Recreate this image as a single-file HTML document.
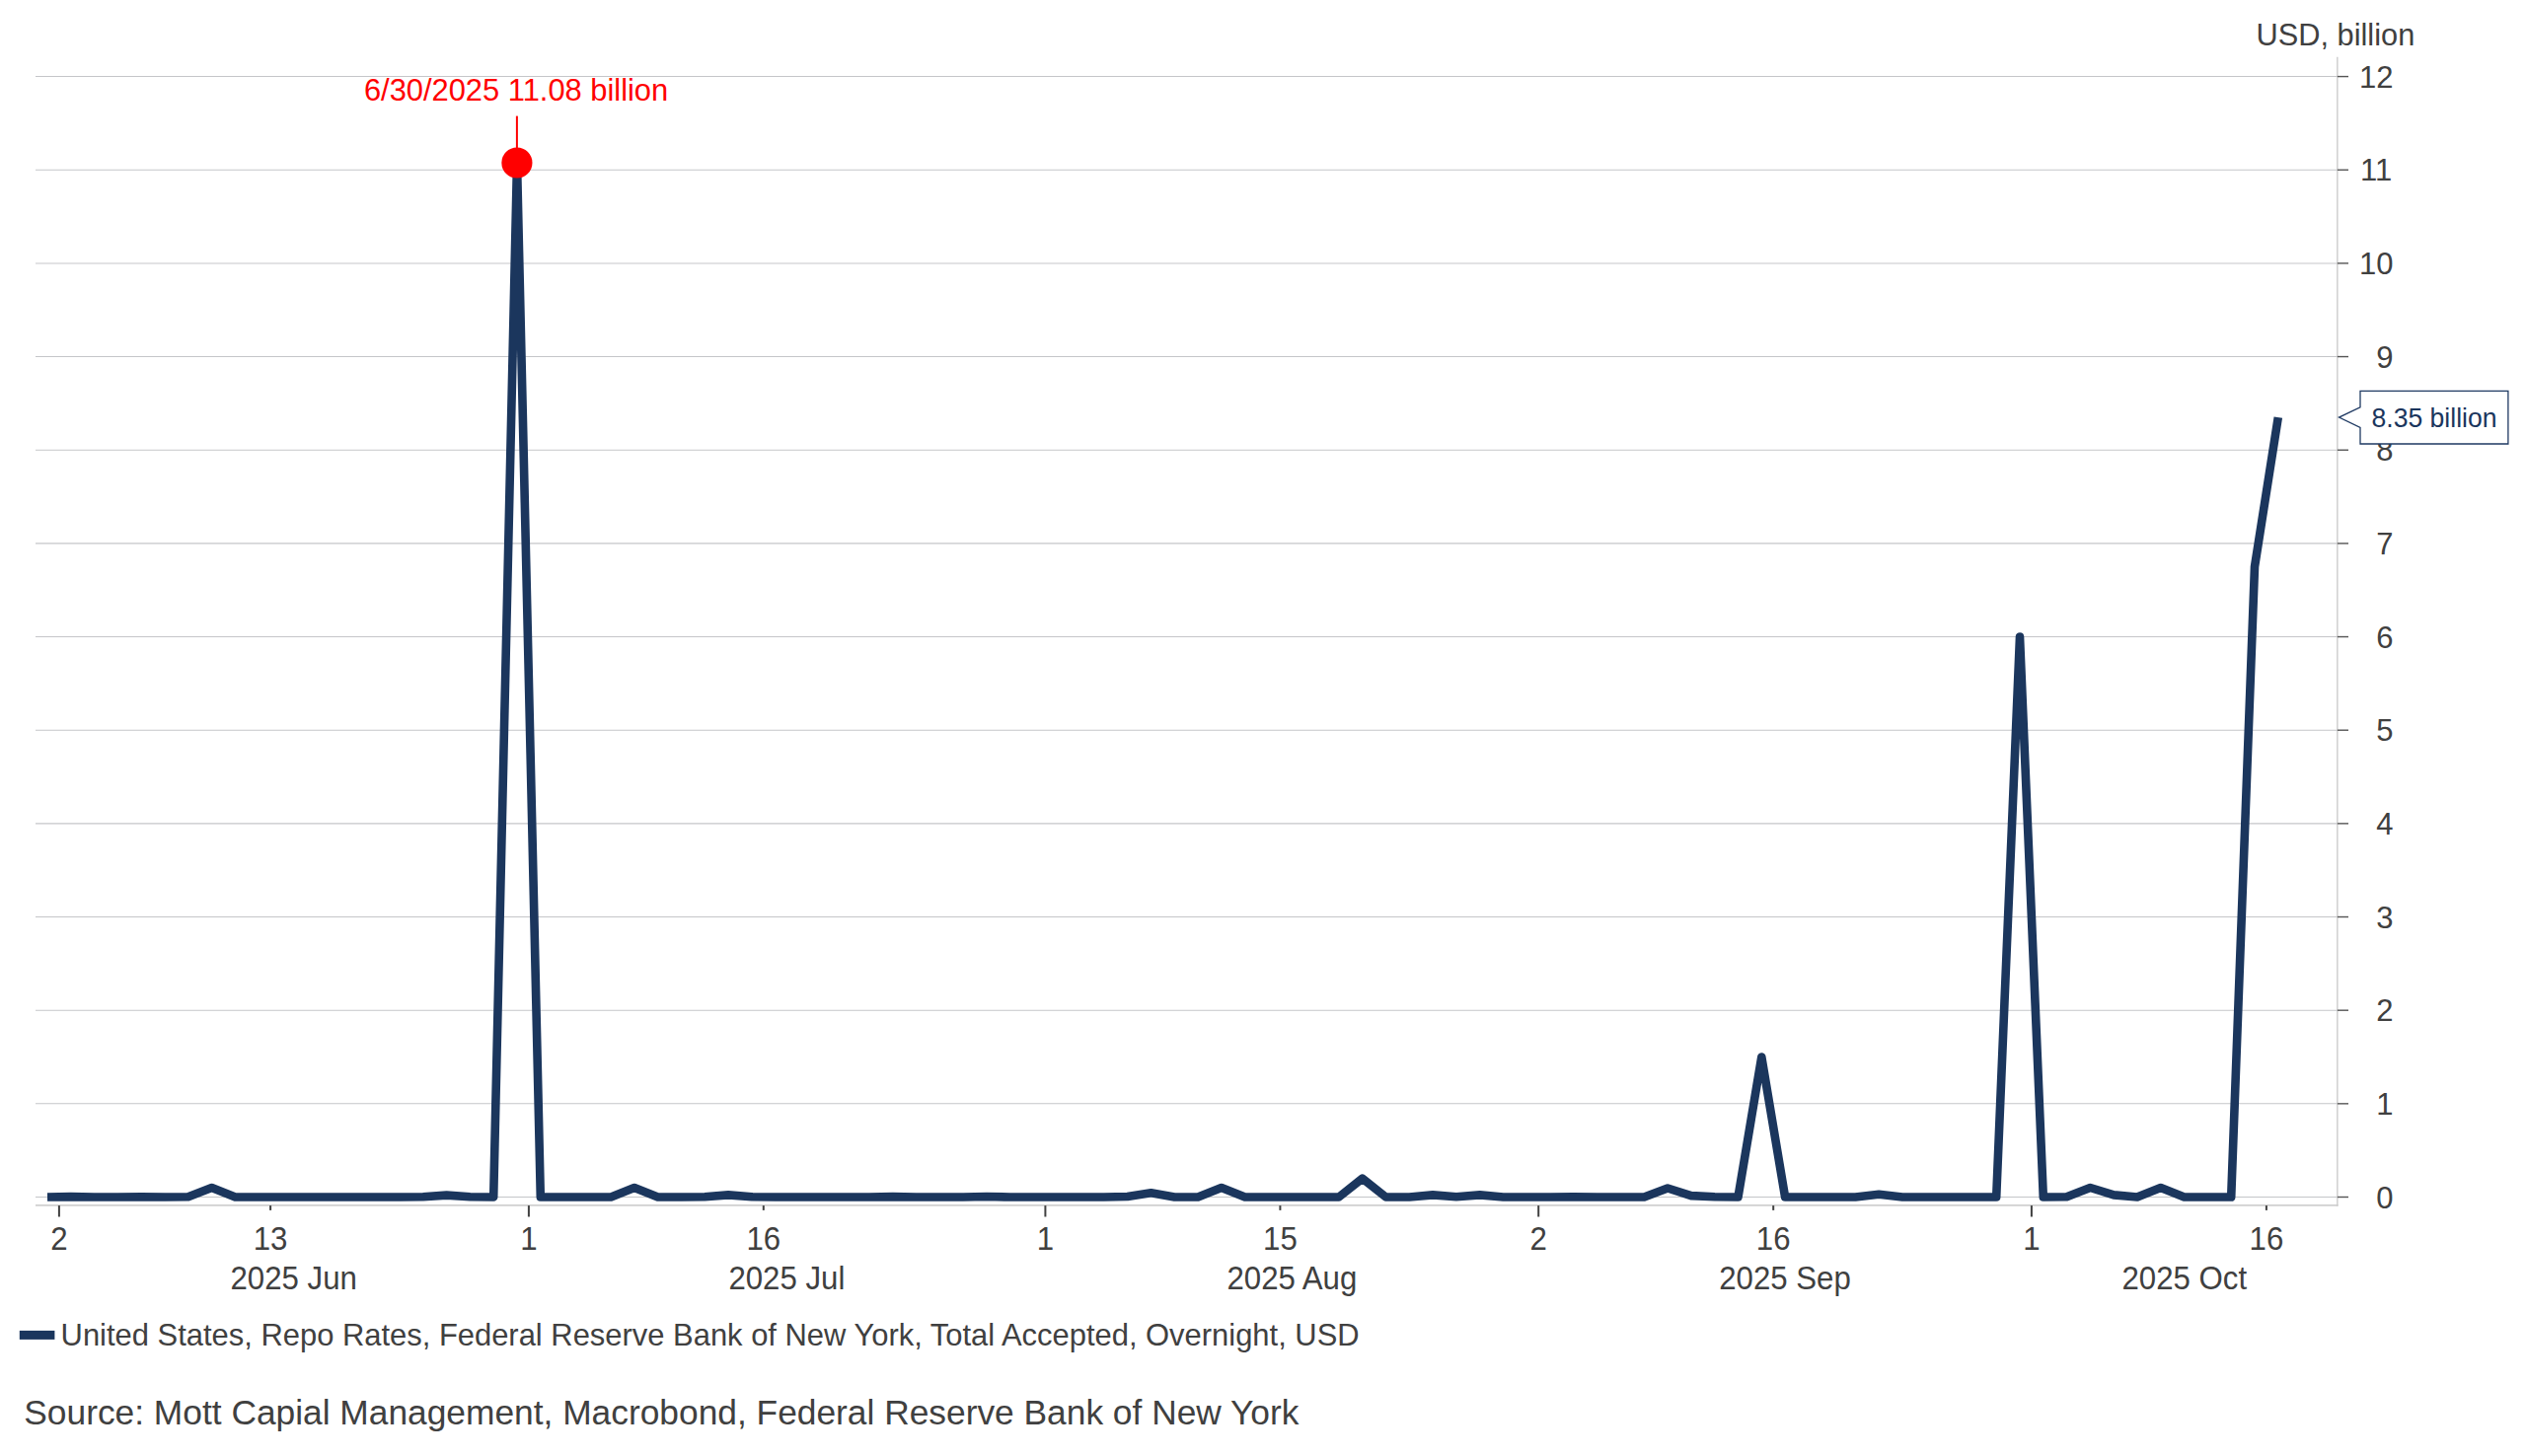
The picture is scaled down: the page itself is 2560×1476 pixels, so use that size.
<!DOCTYPE html>
<html lang="en"><head><meta charset="utf-8"><title>Repo chart</title>
<style>html,body{margin:0;padding:0;background:#fff}body{width:2560px;height:1476px;overflow:hidden}svg{display:block}text{font-family:"Liberation Sans",sans-serif}</style></head><body>
<svg width="2560" height="1476" viewBox="0 0 2560 1476">
<rect width="2560" height="1476" fill="#fff"/>
<g stroke="#c5c6c9" stroke-width="1.05">
<line x1="36" x2="2368.9" y1="1213.50" y2="1213.50"/>
<line x1="36" x2="2368.9" y1="1118.84" y2="1118.84"/>
<line x1="36" x2="2368.9" y1="1024.18" y2="1024.18"/>
<line x1="36" x2="2368.9" y1="929.52" y2="929.52"/>
<line x1="36" x2="2368.9" y1="834.86" y2="834.86"/>
<line x1="36" x2="2368.9" y1="740.20" y2="740.20"/>
<line x1="36" x2="2368.9" y1="645.54" y2="645.54"/>
<line x1="36" x2="2368.9" y1="550.88" y2="550.88"/>
<line x1="36" x2="2368.9" y1="456.22" y2="456.22"/>
<line x1="36" x2="2368.9" y1="361.56" y2="361.56"/>
<line x1="36" x2="2368.9" y1="266.90" y2="266.90"/>
<line x1="36" x2="2368.9" y1="172.24" y2="172.24"/>
<line x1="36" x2="2368.9" y1="77.58" y2="77.58"/>
</g>
<line x1="36" x2="2369.5" y1="1221.95" y2="1221.95" stroke="#d0d0d0" stroke-width="1.8"/>
<line x1="2368.85" x2="2368.85" y1="57.7" y2="1222.8" stroke="#c8c8c8" stroke-width="1.3"/>
<g stroke="#555" stroke-width="1.4">
<line x1="2368.9" x2="2380" y1="1213.50" y2="1213.50"/>
<line x1="2368.9" x2="2380" y1="1118.84" y2="1118.84"/>
<line x1="2368.9" x2="2380" y1="1024.18" y2="1024.18"/>
<line x1="2368.9" x2="2380" y1="929.52" y2="929.52"/>
<line x1="2368.9" x2="2380" y1="834.86" y2="834.86"/>
<line x1="2368.9" x2="2380" y1="740.20" y2="740.20"/>
<line x1="2368.9" x2="2380" y1="645.54" y2="645.54"/>
<line x1="2368.9" x2="2380" y1="550.88" y2="550.88"/>
<line x1="2368.9" x2="2380" y1="456.22" y2="456.22"/>
<line x1="2368.9" x2="2380" y1="361.56" y2="361.56"/>
<line x1="2368.9" x2="2380" y1="266.90" y2="266.90"/>
<line x1="2368.9" x2="2380" y1="172.24" y2="172.24"/>
<line x1="2368.9" x2="2380" y1="77.58" y2="77.58"/>
</g>
<g font-size="31" fill="#404040" text-anchor="end">
<text transform="translate(2425.6 1224.6) scale(1 1.04)">0</text>
<text transform="translate(2425.6 1129.9) scale(1 1.04)">1</text>
<text transform="translate(2425.6 1035.3) scale(1 1.04)">2</text>
<text transform="translate(2425.6 940.6) scale(1 1.04)">3</text>
<text transform="translate(2425.6 846.0) scale(1 1.04)">4</text>
<text transform="translate(2425.6 751.3) scale(1 1.04)">5</text>
<text transform="translate(2425.6 656.6) scale(1 1.04)">6</text>
<text transform="translate(2425.6 562.0) scale(1 1.04)">7</text>
<text transform="translate(2425.6 467.3) scale(1 1.04)">8</text>
<text transform="translate(2425.6 372.7) scale(1 1.04)">9</text>
<text transform="translate(2425.6 278.0) scale(1 1.04)">10</text>
<text transform="translate(2424.2 183.3) scale(1 1.04)">11</text>
<text transform="translate(2425.6 88.7) scale(1 1.04)">12</text>
</g>
<text x="2286.6" y="46.2" font-size="30.75" fill="#404040">USD, billion</text>
<g stroke="#404040" stroke-width="2">
<line x1="59.9" x2="59.9" y1="1222.1" y2="1233.5"/>
<line x1="535.9" x2="535.9" y1="1222.1" y2="1233.5"/>
<line x1="1059.4" x2="1059.4" y1="1222.1" y2="1233.5"/>
<line x1="1559.2" x2="1559.2" y1="1222.1" y2="1233.5"/>
<line x1="2058.9" x2="2058.9" y1="1222.1" y2="1233.5"/>
<line x1="274.1" x2="274.1" y1="1222.1" y2="1226.9"/>
<line x1="773.8" x2="773.8" y1="1222.1" y2="1226.9"/>
<line x1="1297.4" x2="1297.4" y1="1222.1" y2="1226.9"/>
<line x1="1797.2" x2="1797.2" y1="1222.1" y2="1226.9"/>
<line x1="2296.9" x2="2296.9" y1="1222.1" y2="1226.9"/>
</g>
<g font-size="31.2" fill="#404040" text-anchor="middle">
<text transform="translate(59.9 1266.6) scale(1 1.04)">2</text>
<text transform="translate(274.1 1266.6) scale(1 1.04)">13</text>
<text transform="translate(535.9 1266.6) scale(1 1.04)">1</text>
<text transform="translate(773.8 1266.6) scale(1 1.04)">16</text>
<text transform="translate(1059.4 1266.6) scale(1 1.04)">1</text>
<text transform="translate(1297.4 1266.6) scale(1 1.04)">15</text>
<text transform="translate(1559.2 1266.6) scale(1 1.04)">2</text>
<text transform="translate(1797.2 1266.6) scale(1 1.04)">16</text>
<text transform="translate(2058.9 1266.6) scale(1 1.04)">1</text>
<text transform="translate(2296.9 1266.6) scale(1 1.04)">16</text>
<text transform="translate(297.7 1306.7) scale(1 1.04)">2025 Jun</text>
<text transform="translate(797.4 1306.7) scale(1 1.04)">2025 Jul</text>
<text transform="translate(1309.4 1306.7) scale(1 1.04)">2025 Aug</text>
<text transform="translate(1809.0 1306.7) scale(1 1.04)">2025 Sep</text>
<text transform="translate(2213.8 1306.7) scale(1 1.04)">2025 Oct</text>
</g>
<polyline fill="none" stroke="#1b365d" stroke-width="8.6" stroke-linejoin="round" stroke-linecap="butt" points="48.0,1213.5 71.8,1213.1 95.6,1213.5 119.4,1213.5 143.2,1213.2 167.0,1213.5 190.8,1213.2 214.6,1204.0 238.4,1213.5 262.2,1213.5 286.0,1213.5 309.8,1213.5 333.6,1213.5 357.4,1213.5 381.2,1213.5 405.0,1213.5 428.8,1213.3 452.6,1211.6 476.4,1213.2 500.2,1213.5 524.0,164.7 547.8,1213.5 571.6,1213.5 595.4,1213.5 619.2,1213.5 642.9,1204.0 666.7,1213.5 690.5,1213.5 714.3,1213.3 738.1,1211.4 761.9,1213.2 785.7,1213.5 809.5,1213.5 833.3,1213.5 857.1,1213.5 880.9,1213.5 904.7,1213.1 928.5,1213.5 952.3,1213.5 976.1,1213.5 999.9,1213.0 1023.7,1213.5 1047.5,1213.5 1071.3,1213.5 1095.1,1213.5 1118.9,1213.5 1142.7,1213.0 1166.5,1209.2 1190.3,1213.5 1214.1,1213.5 1237.9,1204.0 1261.7,1213.5 1285.5,1213.5 1309.3,1213.5 1333.1,1213.5 1356.9,1213.5 1380.7,1194.6 1404.5,1213.5 1428.3,1213.5 1452.1,1211.4 1475.9,1213.2 1499.7,1211.4 1523.5,1213.5 1547.3,1213.5 1571.1,1213.5 1594.9,1213.2 1618.7,1213.5 1642.5,1213.5 1666.3,1213.5 1690.1,1204.5 1713.9,1212.1 1737.7,1213.3 1761.5,1213.5 1785.3,1071.5 1809.1,1213.5 1832.8,1213.5 1856.6,1213.5 1880.4,1213.5 1904.2,1210.8 1928.0,1213.5 1951.8,1213.5 1975.6,1213.5 1999.4,1213.5 2023.2,1213.5 2047.0,645.5 2070.8,1213.5 2094.6,1213.2 2118.4,1204.0 2142.2,1211.4 2166.0,1213.5 2189.8,1204.0 2213.6,1213.5 2237.4,1213.5 2261.2,1213.5 2285.0,574.5 2308.8,423.1"/>
<line x1="523.9" x2="523.9" y1="117.6" y2="152" stroke="#ff0000" stroke-width="2"/>
<circle cx="523.9" cy="165.0" r="15.6" fill="#ff0000"/>
<text transform="translate(368.9 101.7) scale(1 1.04)" font-size="30.87" fill="#ff0000">6/30/2025 11.08 billion</text>
<path d="M2392 396.4 H2541.9 V450 H2392 V433.4 L2370.5 423.1 L2392 412.8 Z" fill="#fff" stroke="#1f3a63" stroke-width="1.3" stroke-linejoin="miter"/>
<text transform="translate(2467 432.8) scale(1 1.035)" font-size="26.6" fill="#1b365d" text-anchor="middle">8.35 billion</text>
<rect x="19.8" y="1348.9" width="35.6" height="9" fill="#1b365d"/>
<text x="61.6" y="1364.1" font-size="30.93" fill="#404040">United States, Repo Rates, Federal Reserve Bank of New York, Total Accepted, Overnight, USD</text>
<text x="24.3" y="1443.7" font-size="35.33" fill="#404040">Source: Mott Capial Management, Macrobond, Federal Reserve Bank of New York</text>
</svg></body></html>
